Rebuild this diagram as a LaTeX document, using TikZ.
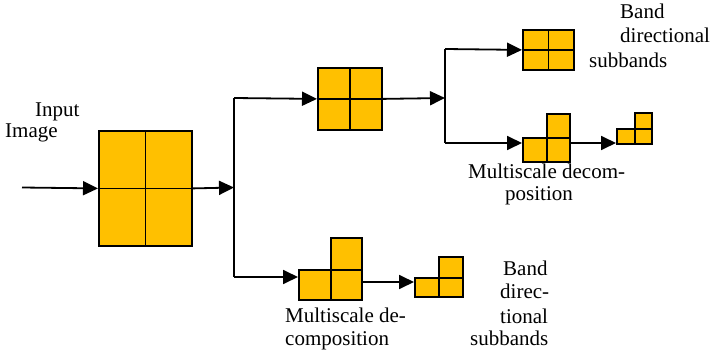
\documentclass[tikz,border=0pt]{standalone}
\usepackage{fontspec}
\setmainfont{Liberation Serif}
\usetikzlibrary{arrows.meta}
\definecolor{cellfill}{HTML}{FFC000}
\tikzset{
  cell/.style={draw, fill=cellfill, line width=1.8pt, inner sep=0pt, anchor=north west},
  flow/.style={line width=1.8pt, -{Triangle[length=15pt,width=14pt]}},
  trunk/.style={line width=1.8pt},
  lbl/.style={font=\fontsize{21}{24}\selectfont, inner sep=0pt, anchor=base west}
}
\begin{document}
\begin{tikzpicture}[x=1pt,y=-1pt]
\useasboundingbox (0,0) rectangle (713,356);

% input image
\node[cell, minimum width=93pt, minimum height=115pt] (img) at (98,130) {};
\draw[line width=1.8pt] (img.north) -- (img.south) (img.west) -- (img.east);
\coordinate (src) at (22,187.5);
\draw[flow] (src) -- (img.west);
\node[lbl] (inlbl) at (35,116) {Input};
\node[lbl] (imlbl) at (5,137) {Image};

% first split
\coordinate (split1) at (234,187.5);
\coordinate (up1) at (234,98);
\coordinate (dn1) at (234,277);
\draw[flow] (img.east) -- (split1);
\draw[trunk] (up1) -- (dn1);

% upper branch
\node[cell, minimum width=64pt, minimum height=62pt] (low1) at (317,67) {};
\draw[line width=1.8pt] (low1.north) -- (low1.south) (low1.west) -- (low1.east);
\draw[flow] (up1) -- (low1.west);
\coordinate (split2) at (445,98);
\coordinate (up2) at (445,49);
\coordinate (dn2) at (445,143);
\draw[flow] (low1.east) -- (split2);
\draw[trunk] (up2) -- (dn2);

% band directional subbands (top)
\node[cell, minimum width=51pt, minimum height=40pt] (dir1) at (522,29) {};
\draw[line width=1.8pt] (dir1.north) -- (dir1.south) (dir1.west) -- (dir1.east);
\draw[flow] (up2) -- (dir1.west);
\node[lbl] (band1) at (620,18) {Band};
\node[lbl] (dirc1) at (620,42) {directional};
\node[lbl] (subb1) at (589,67) {subbands};

% multiscale decomposition (top)
\node[cell, minimum width=24pt, minimum height=24pt] (ms1a) at (522,137) {};
\node[cell, minimum width=23pt, minimum height=24pt] (ms1b) at (546,137) {};
\node[cell, minimum width=23pt, minimum height=24pt] (ms1c) at (546,113) {};
\draw[flow] (dn2) -- (dn2 -| ms1a.west);
\node[cell, minimum width=18pt, minimum height=15pt] (ms2a) at (616,128) {};
\node[cell, minimum width=17pt, minimum height=15pt] (ms2b) at (634,128) {};
\node[cell, minimum width=17pt, minimum height=16pt] (ms2c) at (634,112) {};
\draw[flow] (ms1b.east |- dn2) -- (ms2a.west |- dn2);
\node[lbl] (msd1) at (468,178) {Multiscale decom-};
\node[lbl] (msp1) at (505,200) {position};

% lower branch
\node[cell, minimum width=32pt, minimum height=30pt] (ms3a) at (298,269) {};
\node[cell, minimum width=31pt, minimum height=30pt] (ms3b) at (330,269) {};
\node[cell, minimum width=31pt, minimum height=32pt] (ms3c) at (330,237) {};
\draw[flow] (dn1) -- (dn1 -| ms3a.west);
\coordinate (mid3) at (0,282);
\node[cell, minimum width=24pt, minimum height=19pt] (ms4a) at (414,277) {};
\node[cell, minimum width=24pt, minimum height=19pt] (ms4b) at (438,277) {};
\node[cell, minimum width=24pt, minimum height=21pt] (ms4c) at (438,256) {};
\draw[flow] (ms3b.east |- mid3) -- (ms4a.west |- mid3);
\node[lbl] (msd2) at (285,322) {Multiscale de-};
\node[lbl] (msp2) at (285,345) {composition};
\node[lbl] (band2) at (503,275) {Band};
\node[lbl] (dirc2) at (500,298) {direc-};
\node[lbl] (tion2) at (500,323) {tional};
\node[lbl] (subb2) at (470,345) {subbands};
\end{tikzpicture}
\end{document}
